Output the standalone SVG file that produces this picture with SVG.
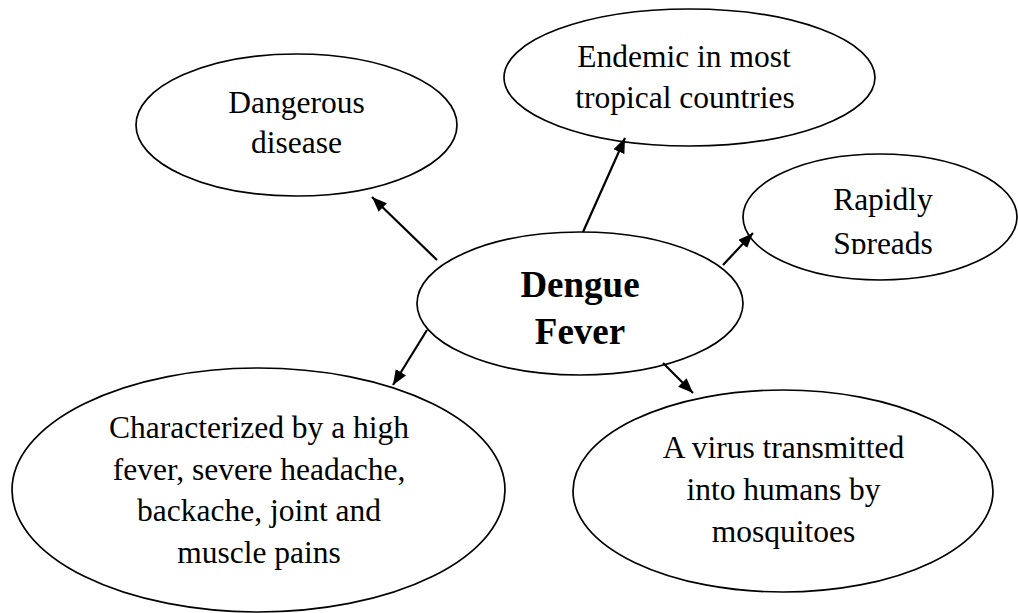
<svg xmlns="http://www.w3.org/2000/svg" width="1018" height="613" viewBox="0 0 1018 613">
<style>
.node{fill:#fff;stroke:#000;stroke-width:1.7}
.t{font-family:"Liberation Serif","Times New Roman",serif;font-size:31.5px;fill:#000;text-anchor:middle}
.b{font-family:"Liberation Serif","Times New Roman",serif;font-size:37px;font-weight:bold;fill:#000;text-anchor:middle}
.c{stroke:#000;stroke-width:2.2;fill:none;marker-end:url(#ah)}
</style>
<defs>
<marker id="ah" markerUnits="userSpaceOnUse" markerWidth="16" markerHeight="13" refX="15" refY="6" orient="auto">
<path d="M0,0 L15,6 L0,12 z" fill="#000"/>
</marker>
<clipPath id="spclip"><rect x="740" y="150" width="278" height="104"/></clipPath>
</defs>
<rect width="1018" height="613" fill="#fff"/>
<g id="n-dangerous">
<ellipse class="node" cx="296.5" cy="125" rx="160.5" ry="71"/>
<text class="t" x="296.5" y="113">Dangerous</text>
<text class="t" x="296.5" y="153">disease</text>
</g>
<g id="n-endemic">
<ellipse class="node" cx="689.5" cy="77.5" rx="185.5" ry="68.5"/>
<text class="t" x="684" y="67">Endemic in most</text>
<text class="t" x="685" y="108">tropical countries</text>
</g>
<g id="n-rapidly">
<ellipse class="node" cx="880" cy="217" rx="137" ry="63"/>
<g clip-path="url(#spclip)">
<text class="t" x="883" y="210">Rapidly</text>
<text class="t" x="883" y="254">Spreads</text>
</g>
</g>
<g id="n-dengue">
<ellipse class="node" cx="580" cy="303.5" rx="163" ry="71.5"/>
<text class="b" x="580" y="297">Dengue</text>
<text class="b" x="580" y="344">Fever</text>
</g>
<g id="n-characterized">
<ellipse class="node" cx="258.5" cy="490" rx="246.5" ry="122"/>
<text class="t" x="259" y="438">Characterized by a high</text>
<text class="t" x="259" y="480">fever, severe headache,</text>
<text class="t" x="259" y="521">backache, joint and</text>
<text class="t" x="259" y="563">muscle pains</text>
</g>
<g id="n-virus">
<ellipse class="node" cx="783" cy="491" rx="210" ry="101"/>
<text class="t" x="783.5" y="458">A virus transmitted</text>
<text class="t" x="783.5" y="500">into humans by</text>
<text class="t" x="783.5" y="542">mosquitoes</text>
</g>
<g id="connectors">
<line class="c" x1="437" y1="260" x2="372" y2="197"/>
<line class="c" x1="583" y1="232" x2="625" y2="138"/>
<line class="c" x1="723" y1="265" x2="753" y2="233"/>
<line class="c" x1="427" y1="330" x2="393" y2="385"/>
<line class="c" x1="663" y1="363" x2="693" y2="393"/>
</g>
</svg>
